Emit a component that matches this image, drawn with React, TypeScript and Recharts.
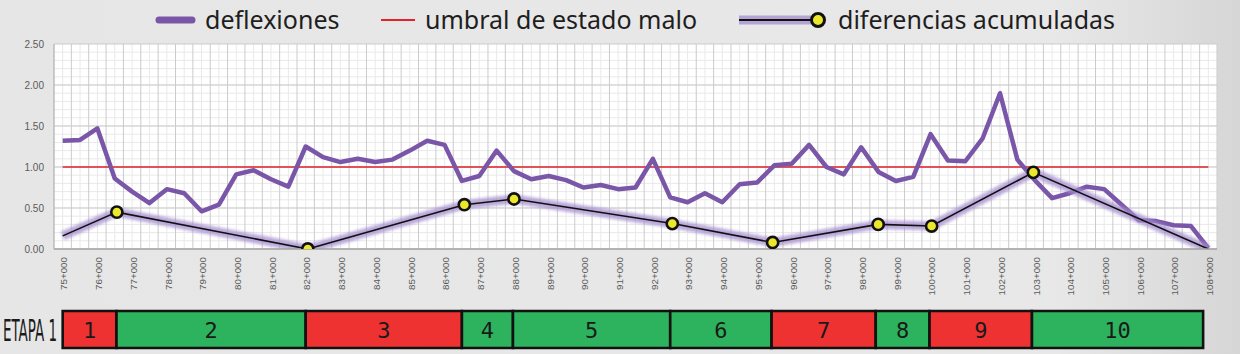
import React from 'react';
import {
  LineChart,
  Line,
  XAxis,
  YAxis,
  CartesianGrid,
  ReferenceLine,
  BarChart,
  Bar,
  LabelList,
} from 'recharts';

// ---------- DATA ----------
const deflexionKm = [
  75, 75.5, 76, 76.5, 77, 77.5, 78, 78.5, 79, 79.5,
  80, 80.5, 81, 81.5, 82, 82.5, 83, 83.5, 84, 84.5,
  85, 85.5, 86, 86.5, 87, 87.5, 88, 88.5, 89, 89.5,
  90, 90.5, 91, 91.5, 92, 92.5, 93, 93.5, 94, 94.5,
  95, 95.5, 96, 96.5, 97, 97.5, 98, 98.5, 99, 99.5,
  100, 100.5, 101, 101.5, 102, 102.5, 103, 103.5, 104, 104.5,
  105, 105.5, 106, 106.5, 107, 107.5, 108,
];
const deflexionValues = [
  1.32, 1.33, 1.47, 0.86, 0.7, 0.56, 0.73, 0.68, 0.46, 0.54,
  0.91, 0.96, 0.85, 0.76, 1.25, 1.12, 1.06, 1.1, 1.06, 1.09,
  1.2, 1.32, 1.27, 0.83, 0.89, 1.2, 0.95, 0.85, 0.89, 0.84,
  0.75, 0.78, 0.73, 0.75, 1.1, 0.63, 0.57, 0.68, 0.57, 0.79,
  0.81, 1.02, 1.04, 1.27, 1.0, 0.91, 1.24, 0.94, 0.83, 0.88,
  1.4, 1.08, 1.07, 1.35, 1.9, 1.09, 0.84, 0.62, 0.68, 0.76,
  0.73, 0.54, 0.35, 0.34, 0.29, 0.28, 0.01,
];
const acumuladaKm = [75, 76.56, 82.06, 86.57, 88.0, 92.56, 95.45, 98.49, 100.03, 102.96, 108];
const acumuladaValues = [0.16, 0.45, 0.0, 0.54, 0.61, 0.31, 0.08, 0.3, 0.28, 0.935, 0.0];
const umbralEstadoMalo = 1.0;

const stationTicks = [
  75, 76, 77, 78, 79, 80, 81, 82, 83, 84, 85, 86, 87, 88, 89, 90, 91,
  92, 93, 94, 95, 96, 97, 98, 99, 100, 101, 102, 103, 104, 105, 106, 107, 108,
];
const yTicks = [0, 0.5, 1, 1.5, 2, 2.5];
const xDomain: [number, number] = [74.75, 108.25];
const yDomain: [number, number] = [0, 2.5];

const etapaLabel = 'ETAPA 1';
const etapaBounds = [75, 76.55, 82.0, 86.5, 87.97, 92.5, 95.42, 98.42, 99.97, 102.92, 107.85];
const etapaEstado = ['malo', 'bueno', 'malo', 'bueno', 'bueno', 'bueno', 'malo', 'bueno', 'malo', 'bueno'];
const etapaNames = ['1', '2', '3', '4', '5', '6', '7', '8', '9', '10'];

const legendLabels = ['deflexiones', 'umbral de estado malo', 'diferencias acumuladas'];

// ---------- STYLE ----------
const PURPLE = '#7a56a8';
const GLOW = '#a38ccf';
const RED = '#e3232b';
const YELLOW = '#ebe82c';
const GREEN = '#2db35d';
const BAD = '#ee3232';

// derived tables
const deflexionData = deflexionKm.map((km, i) => ({ km, v: deflexionValues[i] }));
const acumuladaData = acumuladaKm.map((km, i) => ({ km, v: acumuladaValues[i] }));

// grid values (axis based)
const majorX: number[] = [];
const minorX: number[] = [];
for (let k = xDomain[0]; k <= xDomain[1] + 1e-9; k += 0.5) majorX.push(Number(k.toFixed(2)));
for (let k = xDomain[0] + 0.25; k < xDomain[1]; k += 0.5) minorX.push(Number(k.toFixed(2)));
const minorY: number[] = [];
for (let k = 0.1; k < 2.5; k += 0.1) minorY.push(Number(k.toFixed(2)));

const xGen = (vals: number[]) => (p: any) => {
  const o = p.offset;
  return vals.map((v) => o.left + ((v - xDomain[0]) / (xDomain[1] - xDomain[0])) * o.width);
};
const yGen = (vals: number[]) => (p: any) => {
  const o = p.offset;
  return vals.map((v) => o.top + o.height - ((v - yDomain[0]) / (yDomain[1] - yDomain[0])) * o.height);
};

const etapaRow: Record<string, any>[] = [
  (() => {
    const row: Record<string, any> = { name: etapaLabel, base: etapaBounds[0] };
    etapaNames.forEach((_, i) => {
      row['s' + i] = Number((etapaBounds[i + 1] - etapaBounds[i]).toFixed(3));
    });
    return row;
  })(),
];

const fmtStation = (v: number) => `${v}+000`;

const XTick = (props: any) => {
  const { x, y, payload } = props;
  return (
    <text
      x={x}
      y={y}
      transform={`rotate(-90, ${x}, ${y})`}
      textAnchor="end"
      dy={4.8}
      fontSize={9.8}
      fontFamily="Liberation Sans, Arial, sans-serif"
      fill="#5a5a5a"
    >
      {fmtStation(payload.value)}
    </text>
  );
};

const AcumDot = (props: any) => {
  const { cx, cy, index } = props;
  if (index === 0 || index === acumuladaData.length - 1 || cx == null) {
    return <g key={`d${index}`} />;
  }
  return (
    <circle key={`d${index}`} cx={cx} cy={cy} r={5.6} fill={YELLOW} stroke="#111" strokeWidth={2.6} />
  );
};

const LegendSvg = () => (
  <svg width={1240} height={42} style={{ position: 'absolute', left: 0, top: 0 }}>
    <line x1={159} y1={20} x2={192} y2={20} stroke={PURPLE} strokeWidth={7} strokeLinecap="round" />
    <text x={205} y={29} fontSize={25} fontFamily="Noto Sans, sans-serif" fill="#1e1e1e">
      {legendLabels[0]}
    </text>
    <line x1={381} y1={20} x2={415} y2={20} stroke={RED} strokeWidth={2} />
    <text x={425} y={29} fontSize={25} fontFamily="Noto Sans, sans-serif" fill="#1e1e1e">
      {legendLabels[1]}
    </text>
    <line x1={739} y1={20} x2={814} y2={20} stroke={GLOW} strokeOpacity={0.75} strokeWidth={9} />
    <line x1={739} y1={20} x2={814} y2={20} stroke="#111" strokeWidth={2} />
    <circle cx={818} cy={20} r={6.5} fill={YELLOW} stroke="#111" strokeWidth={3} />
    <text x={838} y={29} fontSize={25} fontFamily="Noto Sans, sans-serif" fill="#1e1e1e">
      {legendLabels[2]}
    </text>
  </svg>
);

export default function App() {
  return (
    <div
      style={{
        position: 'absolute',
        left: 0,
        top: 0,
        width: 1240,
        height: 354,
        overflow: 'hidden',
        background: 'linear-gradient(to right, #e6e6e6 0%, #e8e8e8 85%, #d6d6d6 100%)',
      }}
    >
      <LegendSvg />
      <div style={{ position: 'absolute', left: 0, top: 0 }}>
        <LineChart width={1240} height={300} margin={{ top: 44, right: 23, bottom: 0, left: 0 }}>
          <defs>
            <filter id="glowBlur" x="-5%" y="-50%" width="110%" height="200%">
              <feGaussianBlur stdDeviation="1.6" />
            </filter>
          </defs>
          <CartesianGrid
            fill="#ffffff"
            stroke="#e9e9e9"
            strokeWidth={1}
            horizontalCoordinatesGenerator={yGen(minorY)}
            verticalCoordinatesGenerator={xGen(minorX)}
          />
          <CartesianGrid
            stroke="#cbcbcb"
            strokeWidth={1}
            horizontalCoordinatesGenerator={yGen(yTicks)}
            verticalCoordinatesGenerator={xGen(majorX)}
          />
          <XAxis
            dataKey="km"
            type="number"
            domain={xDomain}
            ticks={stationTicks}
            interval={0}
            height={51}
            tickLine={false}
            tickSize={0}
            tickMargin={8}
            axisLine={{ stroke: '#a3a3a3', strokeWidth: 1.5 }}
            tick={<XTick />}
            allowDataOverflow
          />
          <YAxis
            type="number"
            domain={yDomain}
            ticks={yTicks}
            width={54}
            tickLine={false}
            tickSize={0}
            tickMargin={10}
            axisLine={{ stroke: '#b5b5b5', strokeWidth: 1 }}
            tickFormatter={(v: number) => v.toFixed(2)}
            tick={{ fontSize: 10, fill: '#5a5a5a', fontFamily: 'Liberation Sans, Arial, sans-serif' }}
            allowDataOverflow
          />
          <ReferenceLine
            segment={[
              { x: deflexionKm[0], y: umbralEstadoMalo },
              { x: deflexionKm[deflexionKm.length - 1], y: umbralEstadoMalo },
            ]}
            stroke={RED}
            strokeWidth={1.6}
          />
          <Line
            data={deflexionData}
            dataKey="v"
            type="linear"
            stroke={PURPLE}
            strokeWidth={4.5}
            strokeLinejoin="round"
            dot={false}
            activeDot={false}
            isAnimationActive={false}
          />
          <Line
            data={acumuladaData}
            dataKey="v"
            type="linear"
            stroke={GLOW}
            strokeOpacity={0.75}
            strokeWidth={9}
            filter="url(#glowBlur)"
            dot={false}
            activeDot={false}
            isAnimationActive={false}
          />
          <Line
            data={acumuladaData}
            dataKey="v"
            type="linear"
            stroke="#111"
            strokeWidth={1.6}
            dot={<AcumDot />}
            activeDot={false}
            isAnimationActive={false}
          />
        </LineChart>
      </div>

      <svg width={60} height={44} style={{ position: 'absolute', left: 0, top: 308 }}>
        <text
          x={0}
          y={0}
          transform="translate(3,33) scale(0.516,1)"
          fontSize={31}
          textLength={104.6}
          lengthAdjust="spacingAndGlyphs"
          fontFamily="Liberation Sans Narrow, DejaVu Sans Condensed, sans-serif"
          fill="#1a1a1a"
        >
          {etapaLabel}
        </text>
      </svg>

      <div style={{ position: 'absolute', left: 0, top: 306 }}>
        <BarChart
          layout="vertical"
          width={1240}
          height={47}
          data={etapaRow}
          margin={{ top: 0, right: 23, bottom: 0, left: 54 }}
          barCategoryGap={0}
        >
          <XAxis type="number" domain={xDomain} hide allowDataOverflow />
          <YAxis type="category" dataKey="name" hide />
          <Bar dataKey="base" stackId="e" fill="none" stroke="none" barSize={37} isAnimationActive={false} />
          {etapaNames.map((n, i) => (
            <Bar
              key={n}
              dataKey={'s' + i}
              stackId="e"
              barSize={37}
              fill={etapaEstado[i] === 'malo' ? BAD : GREEN}
              stroke="#111"
              strokeWidth={2.6}
              isAnimationActive={false}
            >
              <LabelList
                dataKey={'s' + i}
                content={(p: any) => (
                  <text
                    x={Number(p.x) + Number(p.width) / 2}
                    y={Number(p.y) + Number(p.height) / 2}
                    dy={8}
                    textAnchor="middle"
                    fontSize={22}
                    fontFamily="DejaVu Sans Mono, monospace"
                    fill="#1a1a1a"
                  >
                    {n}
                  </text>
                )}
              />
            </Bar>
          ))}
        </BarChart>
      </div>
    </div>
  );
}
